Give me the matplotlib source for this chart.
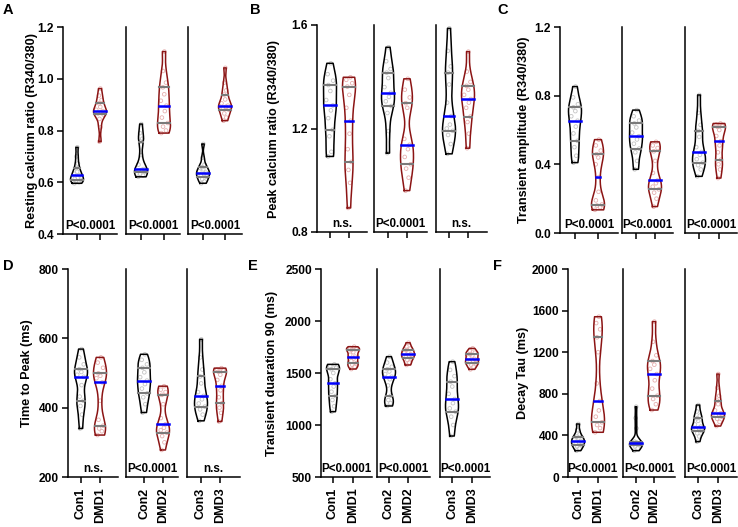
import numpy as np
import matplotlib.pyplot as plt

plt.rcParams['font.family'] = ['Liberation Sans', 'DejaVu Sans']
plt.rcParams['font.weight'] = 'bold'
plt.rcParams['axes.labelweight'] = 'bold'

groups = ["Con1", "DMD1", "Con2", "DMD2", "Con3", "DMD3"]

# values, one list per cell
resting = [
    [0.596, 0.600, 0.604, 0.609, 0.613, 0.618, 0.627, 0.633, 0.641, 0.655, 0.672, 0.700, 0.735],
    [0.757, 0.812, 0.845, 0.862, 0.866, 0.871, 0.875, 0.880, 0.891, 0.905, 0.918, 0.935, 0.962],
    [0.621, 0.626, 0.632, 0.640, 0.644, 0.648, 0.651, 0.668, 0.705, 0.757, 0.768, 0.790, 0.825],
    [0.790, 0.800, 0.815, 0.829, 0.850, 0.875, 0.896, 0.915, 0.940, 0.967, 0.985, 1.030, 1.105],
    [0.596, 0.603, 0.612, 0.621, 0.627, 0.632, 0.637, 0.642, 0.650, 0.658, 0.668, 0.695, 0.748],
    [0.838, 0.850, 0.866, 0.881, 0.888, 0.892, 0.896, 0.905, 0.920, 0.939, 0.955, 0.985, 1.042],
]
peak = [
    [1.092, 1.110, 1.170, 1.195, 1.240, 1.270, 1.289, 1.310, 1.345, 1.368, 1.385, 1.410, 1.452],
    [0.893, 0.990, 1.040, 1.071, 1.120, 1.180, 1.230, 1.280, 1.330, 1.362, 1.375, 1.388, 1.398],
    [1.105, 1.190, 1.260, 1.287, 1.305, 1.322, 1.338, 1.360, 1.395, 1.416, 1.430, 1.460, 1.514],
    [0.960, 1.010, 1.045, 1.062, 1.090, 1.120, 1.137, 1.160, 1.280, 1.298, 1.320, 1.350, 1.392],
    [1.102, 1.140, 1.175, 1.191, 1.200, 1.215, 1.248, 1.300, 1.370, 1.416, 1.440, 1.500, 1.587],
    [1.124, 1.180, 1.225, 1.246, 1.280, 1.300, 1.314, 1.330, 1.350, 1.365, 1.380, 1.420, 1.497],
]
amplitude = [
    [0.410, 0.450, 0.500, 0.537, 0.580, 0.620, 0.654, 0.680, 0.710, 0.732, 0.750, 0.790, 0.853],
    [0.135, 0.150, 0.160, 0.166, 0.190, 0.240, 0.326, 0.400, 0.440, 0.459, 0.480, 0.510, 0.544],
    [0.371, 0.420, 0.470, 0.492, 0.520, 0.545, 0.564, 0.585, 0.615, 0.638, 0.655, 0.680, 0.716],
    [0.154, 0.200, 0.235, 0.254, 0.270, 0.290, 0.306, 0.350, 0.420, 0.476, 0.495, 0.510, 0.531],
    [0.330, 0.370, 0.395, 0.410, 0.430, 0.455, 0.472, 0.500, 0.560, 0.595, 0.630, 0.700, 0.804],
    [0.320, 0.370, 0.400, 0.427, 0.470, 0.510, 0.535, 0.565, 0.600, 0.619, 0.625, 0.632, 0.638],
]
time_to_peak = [
    [340, 380, 405, 420, 432, 465, 489, 495, 503, 511, 525, 545, 569],
    [321, 332, 340, 348, 365, 420, 473, 485, 492, 499, 515, 530, 545],
    [386, 410, 430, 441, 455, 468, 478, 488, 502, 515, 525, 538, 554],
    [278, 300, 318, 328, 335, 342, 352, 370, 410, 437, 445, 452, 462],
    [362, 380, 395, 403, 412, 424, 434, 445, 470, 490, 510, 545, 597],
    [360, 385, 400, 413, 430, 450, 463, 480, 495, 504, 508, 511, 514],
]
duration90 = [
    [1128, 1180, 1240, 1279, 1320, 1370, 1401, 1440, 1500, 1536, 1550, 1565, 1583],
    [1538, 1560, 1580, 1593, 1615, 1640, 1657, 1675, 1700, 1721, 1730, 1740, 1753],
    [1183, 1210, 1240, 1282, 1380, 1440, 1464, 1490, 1515, 1536, 1560, 1600, 1657],
    [1577, 1600, 1625, 1641, 1655, 1668, 1680, 1692, 1705, 1721, 1735, 1755, 1791],
    [894, 1000, 1080, 1128, 1160, 1210, 1250, 1300, 1370, 1417, 1470, 1530, 1609],
    [1535, 1560, 1580, 1593, 1605, 1620, 1635, 1650, 1668, 1683, 1695, 1710, 1737],
]
decay_tau = [
    [253, 275, 295, 308, 320, 335, 346, 358, 372, 388, 410, 450, 510],
    [430, 470, 500, 526, 580, 640, 731, 900, 1200, 1343, 1420, 1480, 1541],
    [253, 275, 295, 308, 314, 319, 324, 329, 334, 340, 468, 567, 676],
    [644, 700, 750, 782, 850, 930, 990, 1040, 1080, 1115, 1170, 1300, 1494],
    [340, 390, 420, 442, 455, 470, 484, 505, 540, 564, 590, 630, 692],
    [490, 530, 560, 580, 592, 602, 612, 640, 700, 734, 780, 860, 990],
]

p_A = ["P<0.0001", "P<0.0001", "P<0.0001"]
p_B = ["n.s.", "P<0.0001", "n.s."]
p_C = ["P<0.0001", "P<0.0001", "P<0.0001"]
p_D = ["n.s.", "P<0.0001", "n.s."]
p_E = ["P<0.0001", "P<0.0001", "P<0.0001"]
p_F = ["P<0.0001", "P<0.0001", "P<0.0001"]

W, H = 738, 527
fig = plt.figure(figsize=(W / 100, H / 100), dpi=100)

# letter, data, pvals, ylabel, ylim, yticks, ticklabels, (top, bottom) px, segments (left, right, tick0, tick1) px, label x px
panels = [
    ("A", resting, p_A, "Resting calcium ratio (R340/380)", (0.4, 1.2),
     [0.4, 0.6, 0.8, 1.0, 1.2], ["0.4", "0.6", "0.8", "1.0", "1.2"], (27, 234),
     [(63, 117, 77, 100), (126, 180, 141, 164), (188, 242, 203, 225)], 32, (3, 3)),
    ("B", peak, p_B, "Peak calcium ratio (R340/380)", (0.8, 1.6),
     [0.8, 1.2, 1.6], ["0.8", "1.2", "1.6"], (25, 232),
     [(317, 367, 330, 349), (374, 427, 388, 407), (436, 487, 449, 468)], 274, (250, 3)),
    ("C", amplitude, p_C, "Transient amplitude (R340/380)", (0.0, 1.2),
     [0.0, 0.4, 0.8, 1.2], ["0.0", "0.4", "0.8", "1.2"], (27, 233),
     [(560, 618, 575, 598), (622, 673, 636, 655), (685, 737, 699, 719)], 524, (497, 3)),
    ("D", time_to_peak, p_D, "Time to Peak (ms)", (200, 800),
     [200, 400, 600, 800], ["200", "400", "600", "800"], (269, 477),
     [(68, 118, 81, 100), (126, 178, 144, 163), (187, 240, 201, 220)], 27, (3, 259)),
    ("E", duration90, p_E, "Transient duaration 90 (ms)", (500, 2500),
     [500, 1000, 1500, 2000, 2500], ["500", "1000", "1500", "2000", "2500"], (269, 477),
     [(321, 372, 333, 353), (377, 430, 389, 408), (440, 490, 452, 472)], 272, (248, 259)),
    ("F", decay_tau, p_F, "Decay Tau (ms)", (0, 2000),
     [0, 400, 800, 1200, 1600, 2000], ["0", "400", "800", "1200", "1600", "2000"], (269, 477),
     [(568, 617, 578, 598), (623, 675, 636, 654), (685, 737, 698, 718)], 523, (493, 259)),
]

line_cols = ["black", "#8b1414"]
dot_cols = ["#c4c4c4", "#e6b0b0"]
jit = [-0.55, 0.35, -0.15, 0.6, -0.35, 0.15, 0.45, -0.6, 0.05, -0.25, 0.5, -0.45, 0.25]


def violin(ax, pos, vals, col, dcol, hw):
    vals = np.sort(np.asarray(vals, float))
    grid = np.linspace(vals[0], vals[-1], 300)
    bw = 0.55 * vals.std(ddof=1) * len(vals) ** (-0.2)
    dens = np.exp(-0.5 * ((grid[:, None] - vals[None, :]) / bw) ** 2).sum(1)
    w = dens / dens.max() * hw
    xs = np.concatenate([pos - w, (pos + w)[::-1], [pos - w[0]]])
    ys = np.concatenate([grid, grid[::-1], [grid[0]]])
    wv = np.interp(vals, grid, w)
    xd = pos + np.array(jit[:len(vals)]) * wv
    ax.scatter(xd, vals, s=7, facecolors='none', edgecolors=dcol, linewidths=0.6, zorder=2)
    ax.plot(xs, ys, color=col, lw=1.1, zorder=3)
    q1, med, q3 = np.percentile(vals, [25, 50, 75])
    for q in (q1, q3):
        wq = np.interp(q, grid, w)
        ax.plot([pos - wq, pos + wq], [q, q], color='#7a7a7a', lw=1.5, zorder=4)
    wm = np.interp(med, grid, w)
    ax.plot([pos - wm, pos + wm], [med, med], color='#0000ff', lw=1.8, zorder=5)


for row, (letter, data, pv, ylab, ylim, yt, ytl, (top, bot), segs, labx, lpos) in enumerate(panels):
    fig.text(lpos[0] / W, 1 - lpos[1] / H, letter, fontsize=10.5, fontweight='bold', ha='left', va='top')
    bottom_row = row >= 3
    for k, (l, r, t0, t1) in enumerate(segs):
        ax = fig.add_axes([l / W, 1 - bot / H, (r - l) / W, (bot - top) / H])
        unit = t1 - t0
        ax.set_xlim(-(t0 - l) / unit, 1 + (r - t1) / unit)
        ax.set_ylim(*ylim)
        for s in ("top", "right"):
            ax.spines[s].set_visible(False)
        for s in ("left", "bottom"):
            ax.spines[s].set_linewidth(1.1)
        ax.set_xticks([0, 1])
        if bottom_row:
            ax.set_xticklabels(groups[2 * k:2 * k + 2], rotation=90, fontsize=9, fontweight='bold')
        else:
            ax.set_xticklabels([])
        ax.tick_params(axis='x', length=4.5, width=1.1, pad=3)
        if k == 0:
            ax.set_yticks(yt)
            ax.set_yticklabels(ytl, fontsize=8.6, fontweight='bold')
            ax.tick_params(axis='y', length=4.5, width=1.1, pad=2)
            ax.set_ylabel(ylab, fontsize=9.1, fontweight='bold')
            ax.yaxis.set_label_coords((labx + 6 - l) / (r - l), 0.5)
        else:
            ax.set_yticks([])
        hw = 6.5 / unit
        for j in range(2):
            violin(ax, j, data[2 * k + j], line_cols[j], dot_cols[j], hw)
        ax.text(0.5, 0.012, pv[k], transform=ax.transAxes, ha='center', va='bottom',
                fontsize=8.4, fontweight='bold')

fig.savefig("out.png", dpi=100)
